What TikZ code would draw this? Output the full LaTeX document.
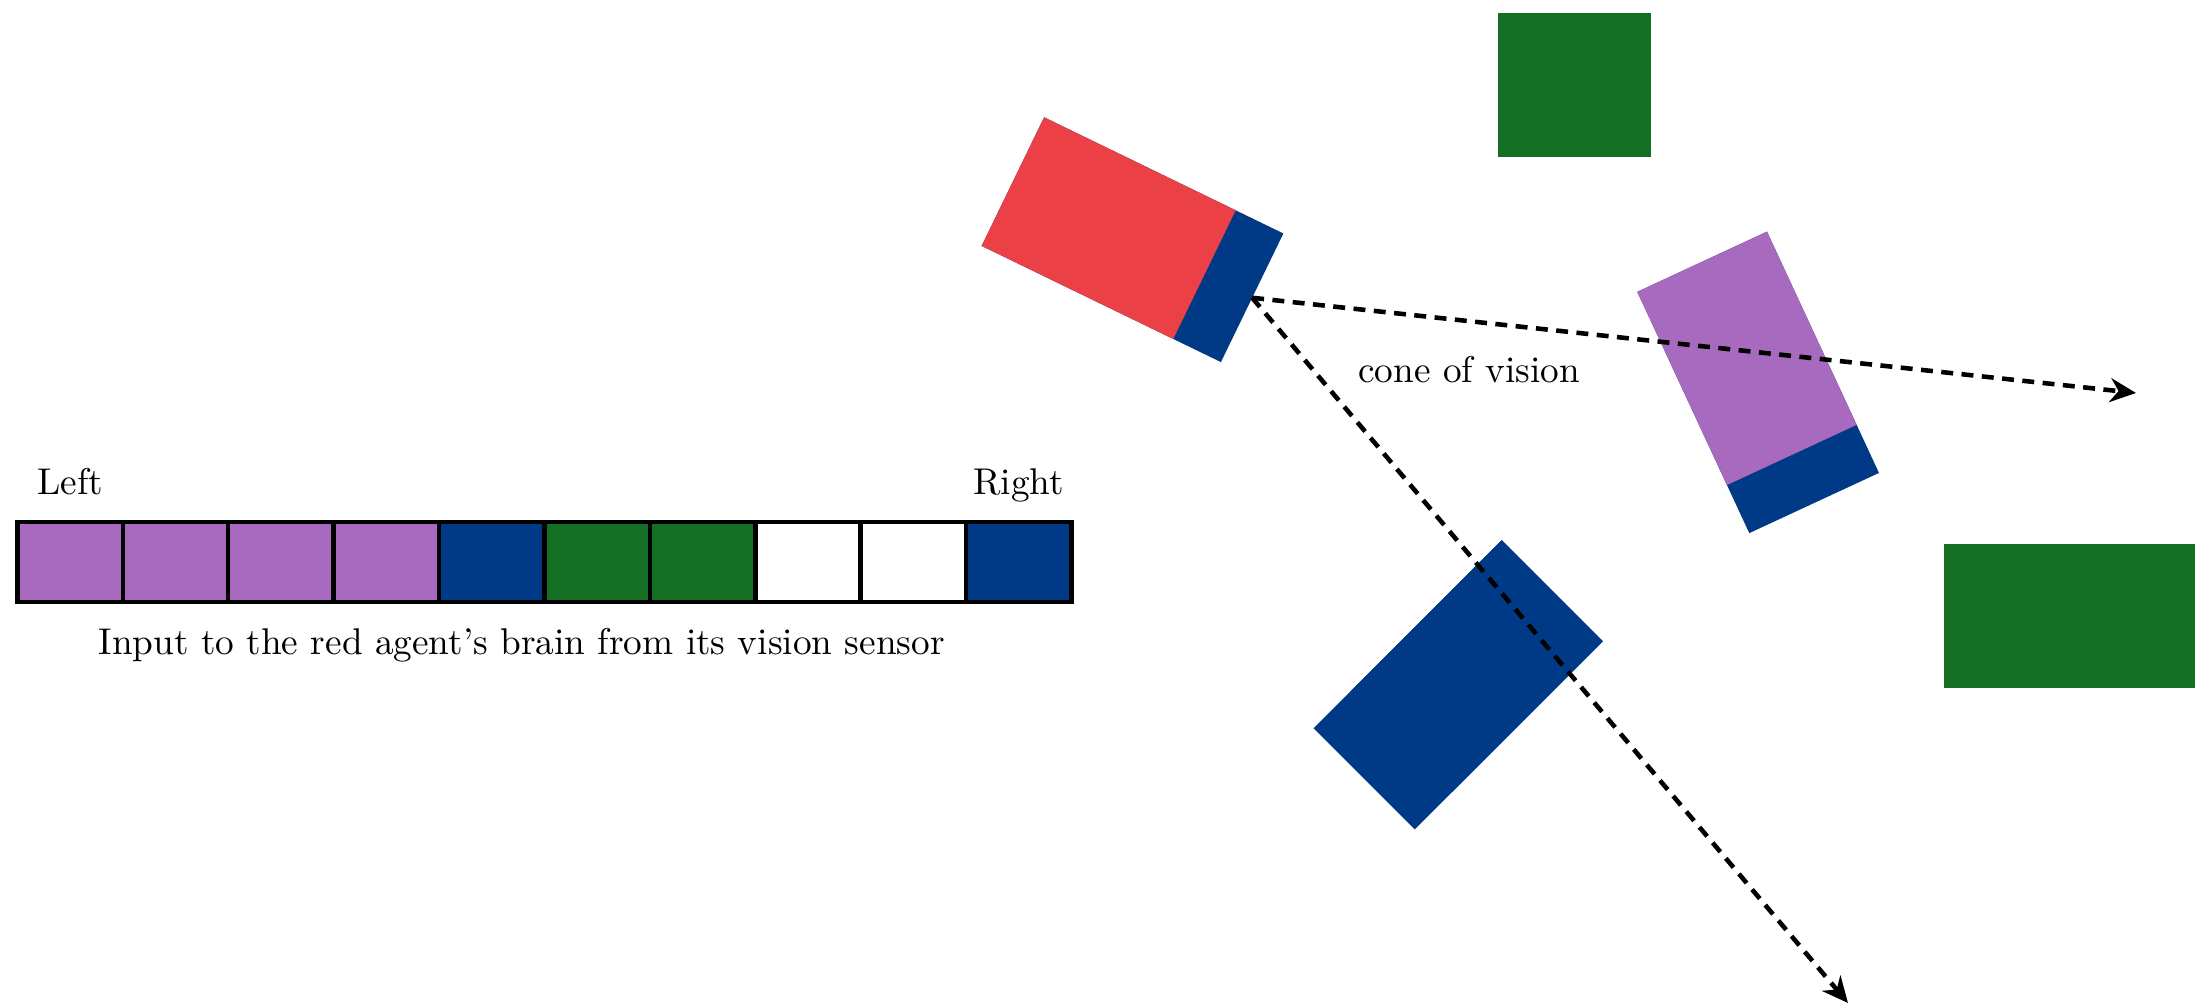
\documentclass[tikz,border=0pt]{standalone}
\usepackage{tikz}
\usetikzlibrary{arrows.meta}

\definecolor{agentred}{HTML}{EB4045}
\definecolor{agentblue}{HTML}{003A86}
\definecolor{agentpurple}{HTML}{A86ABE}
\definecolor{foodgreen}{HTML}{146E24}

\tikzset{
  cell/.style={draw,line width=1.3pt,minimum width=1.054cm,minimum height=0.8cm,inner sep=0pt},
  ray/.style={line width=1.3pt,dash pattern=on 3.4pt off 2.4pt,-{Stealth[length=2.6mm,width=2.4mm]}},
  lbl/.style={anchor=base,font=\fontsize{10.6pt}{13pt}\selectfont}
}

\begin{document}
\begin{tikzpicture}
          \useasboundingbox (0,0) rectangle (21.95,10.05);
          \clip (0,0) rectangle (21.95,10.05);
          \def\agentlen{2.66}
          \def\agentwid{1.43}
          \def\sensorlen{0.53}
          \fill[foodgreen] (14.975,8.484) rectangle (16.505,9.92);
          \fill[foodgreen] (19.44,3.17) rectangle (21.95,4.61);
          \foreach \ax/\ay/\ang/\col/\nm in {11.325/7.653/-25.9/agentred/redagent,
            17.581/6.226/-65.1/agentpurple/purpleagent,
            14.582/3.202/-135/agentblue/blueagent}{%
            \begin{scope}[shift={(\ax,\ay)},rotate=\ang]
              \path[coordinate] (0,0) coordinate (\nm);
              \fill[agentblue] (-\agentlen/2,-\agentwid/2) rectangle (\agentlen/2,\agentwid/2);
              \fill[\col] (-\agentlen/2,-\agentwid/2) rectangle (\agentlen/2-\sensorlen,\agentwid/2);
            \end{scope}
          }
          \path[coordinate] (redagent) ++(-25.9:1.33) coordinate (eye)
            (21.36,6.12) coordinate (rayleft)
            (18.48,0.02) coordinate (rayright);
          \draw[ray] (eye) -- (rayleft);
          \draw[ray] (eye) -- (rayright);
          \node[lbl] (cone) at (14.69,6.22) {cone of vision};
          \foreach \col [count=\i] in {agentpurple,agentpurple,agentpurple,agentpurple,
            agentblue,foodgreen,foodgreen,white,white,agentblue}{%
            \node[cell,fill=\col] (c\i) at (0.174+1.054*\i-0.527,4.43) {};
          }
          \node[lbl] (left) at ([yshift=0.25cm]c1.north) {Left};
          \node[lbl] (right) at ([yshift=0.25cm]c10.north) {Right};
          \node[lbl] (caption) at ([xshift=-0.25cm,yshift=-0.5cm]c5.south east)
            {Input to the red agent's brain from its vision sensor};
        \end{tikzpicture}
\end{document}
